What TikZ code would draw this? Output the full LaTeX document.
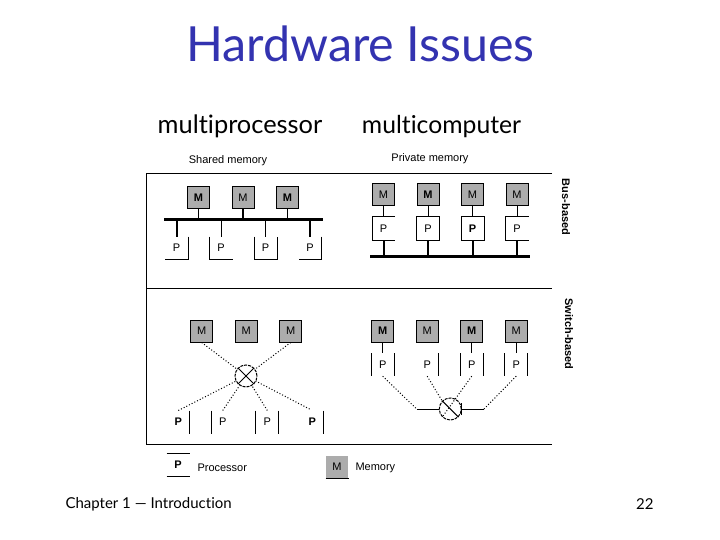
\documentclass[tikz,border=0pt]{standalone}
\usepackage{fontspec}
\setmainfont{Lato}[Ligatures=NoCommon]
\newfontfamily\figfont{Liberation Sans}
\usetikzlibrary{positioning}
\definecolor{titleblue}{RGB}{51,51,176}
\definecolor{memgray}{RGB}{172,172,172}

\tikzset{
  mem/.style={draw, fill=memgray, minimum size=22pt, inner sep=0pt, font=\figfont\fontsize{11}{11}\selectfont},
  proc/.style={minimum size=22pt, inner sep=0pt, font=\figfont\fontsize{11}{11}\selectfont},
  bus/.style={fill=black, inner sep=0pt, minimum height=3pt},
  sw/.style={draw, circle, minimum size=22pt, inner sep=0pt, dash pattern=on 3pt off 1pt},
  figtext/.style={inner sep=0pt, font=\figfont\fontsize{11}{11}\selectfont},
  heading/.style={inner sep=0pt, anchor=base, font=\fontsize{25.4}{26}\selectfont},
  link/.style={dotted},
  foot/.style={inner sep=0pt, font=\fontsize{15}{15}\selectfont}
}

\begin{document}
\begin{tikzpicture}[x=1pt, y=-1pt, line width=1pt, on grid, node distance=44.5pt]
  \useasboundingbox (0,0) rectangle (720,540);

  \node (title) [inner sep=0pt, text=titleblue, font=\fontsize{48.4}{48}\selectfont] at (360.5,44) {Hardware Issues};
  \node (multip) [heading] at (240,133.5) {multiprocessor};
  \node (multic) [heading, font=\fontsize{24.7}{26}\selectfont] at (441.5,133.5) {multicomputer};
  \node (shared) [figtext] at (228,161) {Shared memory};
  \node (private) [figtext] at (430,159) {Private memory};
  \node (busb) [figtext, rotate=-90] at (566,207) {\textbf{Bus-based}};
  \node (switchb) [figtext, rotate=-90] at (569,334) {\textbf{Switch-based}};

  % frame
  \coordinate (fa) at (146,174); \coordinate (fb) at (552,174);
  \coordinate (fc) at (146,288.5); \coordinate (fd) at (552,288.5);
  \coordinate (fe) at (146,444); \coordinate (ff) at (552,444);
  \draw (fb) -- (fa) -- (fe) -- (ff) (fc) -- (fd);

  % shared memory, bus
  \node (ma1) [mem] at (198.5,197.5) {\textbf{M}}; \node (ma2) [mem, right = of ma1] {M};
  \node (ma3) [mem, right = of ma2] {\textbf{M}};
  \node (busa) [bus, minimum width=159pt] at (243,219.5) {};
  \node (pa1) [proc] at (176.5,248) {P}; \node (pa2) [proc, right = of pa1] {P};
  \node (pa3) [proc, right = of pa2] {P}; \node (pa4) [proc, right = of pa3] {P};
  \draw (ma1) -- (ma1 |- busa) (ma3) -- (ma3 |- busa)
    (pa2) -- (pa2 |- busa) (pa3) -- (pa3 |- busa);
  \draw [line width=2pt] (ma2) -- (ma2 |- busa) (pa1) -- (pa1 |- busa) (pa4) -- (pa4 |- busa);
  \draw (pa1.north east) -- (pa1.south east) -- (pa1.south west);
  \draw (pa2.north west) -- (pa2.south west) -- (pa2.south east);
  \draw (pa3.north west) -- (pa3.south west) -- (pa3.south east) -- (pa3.north east);
  \draw (pa4.north east) -- (pa4.south east) -- (pa4.south west);

  % private memory, bus
  \node (mb1) [mem] at (383.5,194.5) {M}; \node (mb2) [mem, right = of mb1] {\textbf{M}};
  \node (mb3) [mem, right = of mb2] {M}; \node (mb4) [mem, right = of mb3] {M};
  \node (pb1) [proc, below = 34pt of mb1] {P}; \node (pb2) [proc, below = 34pt of mb2] {P};
  \node (pb3) [proc, below = 34pt of mb3] {\textbf{P}}; \node (pb4) [proc, below = 34pt of mb4] {P};
  \node (busc) [bus, minimum width=160pt] at (450,256) {};
  \draw (mb1) -- (pb1) (mb2) -- (pb2) (mb3) -- (pb3) (mb4) -- (pb4);
  \draw [line width=2pt] (pb1) -- (pb1 |- busc) (pb2) -- (pb2 |- busc)
    (pb3) -- (pb3 |- busc) (pb4) -- (pb4 |- busc);
  \draw (pb1.north east) -- (pb1.north west) -- (pb1.south west) -- (pb1.south east);
  \draw (pb2.north west) rectangle (pb2.south east);
  \draw (pb3.north west) rectangle (pb3.south east);
  \draw (pb4.north east) -- (pb4.north west) -- (pb4.south west) -- (pb4.south east);

  % shared memory, switch
  \node (mc1) [mem] at (201.7,331) {M}; \node (mc2) [mem, right = of mc1] {M};
  \node (mc3) [mem, right = of mc2] {M};
  \node (swa) [sw] at (246,376) {};
  \node (pc1) [proc] at (178.3,422) {\textbf{P}}; \node (pc2) [proc] at (222.7,422) {P};
  \node (pc3) [proc] at (267.3,422) {P}; \node (pc4) [proc] at (312.3,422) {\textbf{P}};
  \draw [link] (mc1.south) -- (swa) (mc3.south) -- (swa);
  \draw [link, shorten <=3pt] (pc1.north) -- (swa) (pc2.north) -- (swa) (pc3.north) -- (swa) (pc4.north) -- (swa);
  \draw (swa.north west) -- (swa.south east) (swa.north east) -- (swa.south west);
  \draw (pc1.north east) -- (pc1.south east) (pc2.north west) -- (pc2.south west);
  \draw (pc3.north west) -- (pc3.south west) (pc3.north east) -- (pc3.south east);
  \draw (pc4.north east) -- (pc4.south east);

  % private memory, switch
  \node (md1) [mem] at (382.7,331) {\textbf{M}}; \node (md2) [mem, right = of md1] {M};
  \node (md3) [mem, right = of md2] {\textbf{M}}; \node (md4) [mem, right = of md3] {M};
  \node (pd1) [proc, below = 33.7pt of md1] {P}; \node (pd2) [proc, below = 33.7pt of md2] {P};
  \node (pd3) [proc, below = 33.7pt of md3] {P}; \node (pd4) [proc, below = 33.7pt of md4] {P};
  \node (swb) [sw] at (450.3,409) {};
  \coordinate (ka) at (416.7,409); \coordinate (kb) at (484,409);
  \draw (md1) -- (pd1.north) (md3) -- (pd3.north) (md4) -- (pd4.north);
  \draw (pd1.north west) -- (pd1.south west) (pd1.north east) -- (pd1.south east);
  \draw (pd2.north east) -- (pd2.south east);
  \draw (pd3.north west) -- (pd3.south west) (pd3.north east) -- (pd3.south east);
  \draw (pd4.north west) -- (pd4.south west) (pd4.north east) -- (pd4.south east);
  \draw [link] (pd1.south) -- (ka) (pd4.south) -- (kb) (pd2.south) -- (swb.north west)
    (pd3.south) -- (swb.south west);
  \draw (ka) -- (swb.west) (kb) -- (swb.east);
  \draw (swb.north west) -- (swb.south east);
  \draw ([yshift=-6pt]swb.east) -- ([yshift=6pt]swb.east);

  % legend
  \node (pkey) [proc, minimum height=21.5pt] at (178,465.2) {\textbf{P}};
  \node (pname) [figtext, anchor=west] at (197,468) {Processor};
  \node (mkey) [mem, draw=none] at (337,467) {M};
  \node (mname) [figtext, anchor=west] at (355,468) {Memory};
  \draw (pkey.north west) -- (pkey.north east) (pkey.south west) -- (pkey.south east);
  \draw (mkey.south west) -- (mkey.south east);

  \node (chapter) [foot, anchor=west] at (65,504) {Chapter 1 — Introduction};
  \node (pagenum) [foot, anchor=east] at (654,504) {22};
\end{tikzpicture}
\end{document}
